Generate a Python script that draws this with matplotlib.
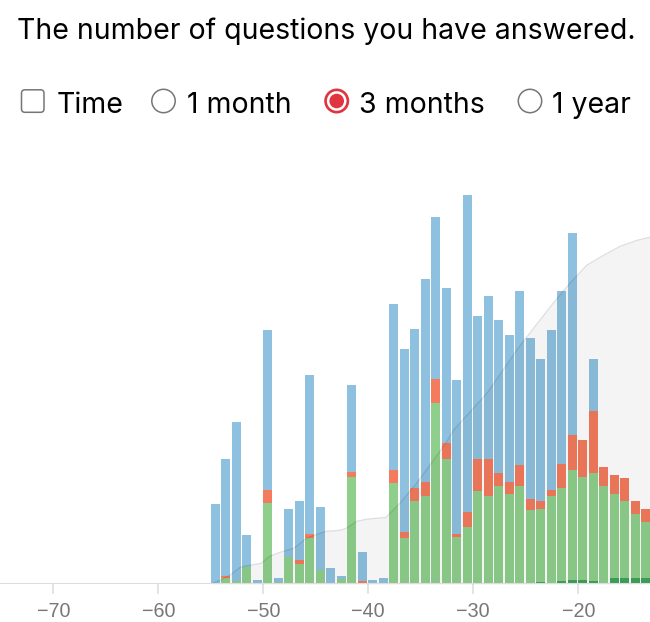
import numpy as np
import matplotlib.pyplot as plt
from matplotlib.patches import Circle, FancyBboxPatch

# days relative to today, one bar per day
days = list(range(-55, -13))

# stacked segments per day (bottom -> top)
mastered = [0, 0, 0, 0, 0, 0, 0, 0, 0, 0, 0, 0, 0, 0, 0, 0, 0, 0, 0, 0,
            0, 0, 0, 0, 0, 0, 1, 1, 1, 1, 1, 2, 1, 3, 4, 4, 3, 1, 6, 6, 6, 6]
correct = [0, 6, 3, 17, 0, 81, 2, 27, 20, 46, 14, 0, 5, 107, 0, 0, 0, 101, 46, 83,
           88, 181, 125, 47, 57, 93, 87, 97, 89, 97, 73, 73, 87, 93, 110, 103, 108, 97, 84, 77, 64, 56]
wrong = [0, 2, 0, 0, 0, 13, 0, 0, 4, 4, 0, 0, 0, 5, 3, 0, 0, 13, 6, 13,
         14, 24, 16, 3, 15, 32, 37, 13, 12, 21, 11, 8, 6, 24, 35, 37, 62, 19, 19, 23, 13, 13]
skipped = [80, 117, 159, 32, 4, 160, 4, 48, 59, 159, 63, 16, 3, 87, 29, 4, 6, 166, 183, 159,
           203, 162, 155, 154, 317, 143, 163, 153, 147, 174, 161, 142, 160, 173, 202, 0, 52, 0, 0, 0, 0, 0]

# running total (own scale)
cum_days = [-55.1, -54.1, -53.2, -52.2, -51.3, -50.2, -49.4, -48.4, -47.1, -45.9, -44.9,
            -44.0, -42.7, -42.1, -41.1, -40.2, -38.3, -37.0, -35.4, -33.8, -32.5, -31.9,
            -28.7, -25.6, -22.4, -20.8, -19.2, -17.6, -16.0, -14.4, -13.2]
cum_total = [0, 4, 9, 17, 19, 21, 28, 32, 36, 46, 50, 53, 54, 56, 63, 65, 67, 81, 101,
             124, 143, 154, 191, 238, 281, 301, 319, 329, 338, 344, 347]

tick_vals = [-70, -60, -50, -40, -30, -20]
options = ["Time", "1 month", "3 months", "1 year"]

W, H = 650, 622
fig = plt.figure(figsize=(W / 100, H / 100), dpi=100)

# chart area: baseline at y=584 px, 400 px tall
ax = fig.add_axes([0, (H - 584.3) / H, 1, 400 / H])
ax.set_xlim(-75.08, -13.17)
ax.set_ylim(0, 400)

x = np.array(days)
bw = 0.83
b0 = np.zeros(len(days))
for vals, col in [(mastered, '#3fa35b'), (correct, '#8fcf8c'),
                  (wrong, '#f47b5c'), (skipped, '#8ec1e0')]:
    ax.bar(x, vals, width=bw, bottom=b0, align='edge', color=col, linewidth=0, zorder=2)
    b0 = b0 + np.array(vals)

# cumulative area drawn over the bars
ax.fill_between(cum_days, cum_total, 0, color='black', alpha=0.045, linewidth=0, zorder=3)
ax.plot(cum_days, cum_total, color='black', alpha=0.13, linewidth=0.9, zorder=4)

ax.axhline(0, color='#dddddd', linewidth=1.5, zorder=5)
for s in ax.spines.values():
    s.set_visible(False)
ax.set_yticks([])
ax.set_xticks(tick_vals)
ax.set_xticklabels([f"\u2212{abs(v)}" for v in tick_vals])
ax.tick_params(axis='x', length=7.5, width=1.1, color='#dddddd', pad=5,
               labelsize=14.2, labelcolor='#777777')
for lab in ax.get_xticklabels():
    lab.set_fontfamily('Liberation Sans')
ax.patch.set_alpha(0)

# header and controls, in pixel coordinates
top = fig.add_axes([0, 0, 1, 1], zorder=10)
top.set_xlim(0, W)
top.set_ylim(H, 0)
top.axis('off')
top.patch.set_alpha(0)

font = 'Inter'
top.text(16.7, 39.3, "The number of questions you have answered.", fontsize=20.5,
         family=font, va='baseline', ha='left', color='black')

label_x = [56.7, 186.7, 359.3, 552.3]
for lx, txt in zip(label_x, options):
    top.text(lx, 113.3, txt, fontsize=20.5, family=font, va='baseline', ha='left', color='black')

top.add_patch(FancyBboxPatch((21.5, 89.8), 22.5, 22.5, boxstyle='round,pad=0,rounding_size=3.5',
                             facecolor='white', edgecolor='#767676', linewidth=1.1))
for cx in [163.5, 530.0]:
    top.add_patch(Circle((cx, 101), 11.7, facecolor='white', edgecolor='#767676', linewidth=1.1))
top.add_patch(Circle((336.7, 101), 12.5, facecolor='#e0353f', edgecolor='none'))
top.add_patch(Circle((336.7, 101), 9.8, facecolor='white', edgecolor='none'))
top.add_patch(Circle((336.7, 101), 7.3, facecolor='#e0353f', edgecolor='none'))

fig.savefig('out.png', dpi=100)
